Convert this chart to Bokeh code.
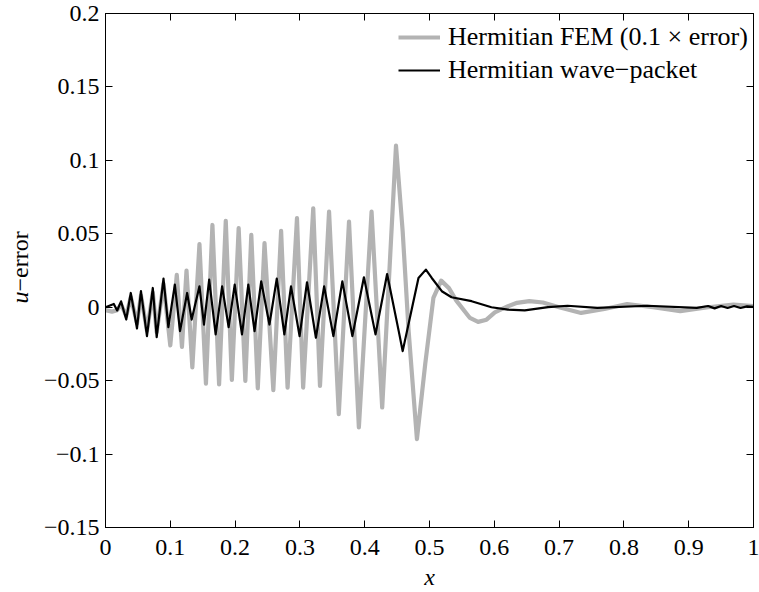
import math
from bokeh.plotting import figure
from bokeh.layouts import row
from bokeh.models import (Range1d, LinearAxis, FixedTicker, Legend, LegendItem, Label,
                          CustomLabelingPolicy)
from bokeh.embed import file_html
from bokeh.resources import INLINE

# ---- data ----
x_fem = [0.0, 0.010, 0.018, 0.024, 0.032, 0.039, 0.0486, 0.0547, 0.064, 0.073, 0.079, 0.0895,
         0.100, 0.110, 0.118, 0.125, 0.134, 0.145, 0.155, 0.165, 0.1753, 0.1856, 0.195, 0.2055,
         0.2158, 0.225, 0.235, 0.2454, 0.259, 0.271, 0.281, 0.2955, 0.305, 0.3206, 0.331, 0.345,
         0.360, 0.3758, 0.391, 0.4106, 0.427, 0.4483, 0.4586, 0.4678, 0.4806, 0.4934, 0.506,
         0.518, 0.530, 0.5414, 0.5624, 0.575, 0.588, 0.6008, 0.6212, 0.635, 0.654, 0.675, 0.700,
         0.734, 0.770, 0.805, 0.845, 0.887, 0.930, 0.969, 1.0]
y_fem = [-0.002, -0.003, -0.002, 0.002, -0.006, 0.007, -0.011, 0.008, -0.016, 0.010, -0.017, 0.016,
         -0.026, 0.022, -0.027, 0.025, -0.041, 0.043, -0.052, 0.056, -0.0525, 0.0588, -0.0495, 0.0538,
         -0.0502, 0.0493, -0.0552, 0.0436, -0.0565, 0.052, -0.0547, 0.0606, -0.0547, 0.0674, -0.0536, 0.0651,
         -0.0728, 0.0583, -0.0819, 0.0651, -0.0683, 0.110, 0.0516, -0.0163, -0.0898, -0.0387, 0.0063,
         0.0181, 0.0130, 0.0045, -0.0073, -0.0100, -0.0085, -0.0035, 0.0007, 0.0030, 0.0042, 0.0032, 0.0000,
         -0.0039, -0.0012, 0.0022, 0.0000, -0.0027, 0.0000, 0.0018, 0.0007]

x_wp = [0.0, 0.006, 0.0128, 0.018, 0.024, 0.032, 0.039, 0.0486, 0.0547, 0.064, 0.073, 0.079, 0.0895,
        0.097, 0.107, 0.115, 0.126, 0.133, 0.145, 0.152, 0.160, 0.170, 0.180, 0.190, 0.1994, 0.2106,
        0.2204, 0.230, 0.2403, 0.253, 0.2643, 0.276, 0.2863, 0.2995, 0.311, 0.3247, 0.3374, 0.3517,
        0.3655, 0.381, 0.3988, 0.4167, 0.4346, 0.4525, 0.4586, 0.473, 0.483, 0.4944, 0.5035, 0.519,
        0.534, 0.565, 0.5956, 0.621, 0.647, 0.683, 0.713, 0.759, 0.836, 0.9125, 0.930, 0.940, 0.950,
        0.960, 0.970, 0.980, 0.990, 1.0]
y_wp = [0.0, 0.001, 0.0022, -0.0022, 0.004, -0.0084, 0.0097, -0.0145, 0.0109, -0.0197, 0.0131, -0.0204, 0.0195,
        -0.0136, 0.0154, -0.0163, 0.0097, -0.0084, 0.0142, -0.0118, 0.0188, -0.0185, 0.0142, -0.0136, 0.0154, -0.0185,
        0.0154, -0.0163, 0.0176, -0.0118, 0.0195, -0.0185, 0.0142, -0.0197, 0.0170, -0.0208, 0.0142, -0.0197,
        0.0176, -0.0197, 0.0204, -0.0185, 0.0226, -0.0163, -0.0299, -0.0005, 0.0199, 0.0256, 0.0199, 0.0109,
        0.0068, 0.0041, 0.0, -0.0016, -0.0022, 0.0, 0.0010, -0.0005, 0.0010, -0.0005, 0.0008, -0.0008, 0.0008,
        -0.0005, 0.0008, -0.0005, 0.0006, 0.0002]

x_ticks = [0, 0.1, 0.2, 0.3, 0.4, 0.5, 0.6, 0.7, 0.8, 0.9, 1]
x_tick_labels = ["0", "0.1", "0.2", "0.3", "0.4", "0.5", "0.6", "0.7", "0.8", "0.9", "1"]
y_ticks = [-0.15, -0.1, -0.05, 0, 0.05, 0.1, 0.15, 0.2]
y_tick_labels = ["\u22120.15", "\u22120.1", "\u22120.05", "0", "0.05", "0.1", "0.15", "0.2"]

series_labels = ["Hermitian FEM (0.1 \u00d7 error)", "Hermitian wave\u2212packet"]
y_label_parts = ["u", "\u2212error"]
x_label = "x"

FONT = "Liberation Serif"
FS = "24px"
H = 589          # total height of both figures
LW = 40          # width of the strip that holds the y-axis label

p = figure(frame_width=648, frame_height=514,
           x_range=Range1d(0, 1), y_range=Range1d(-0.15, 0.2),
           output_backend="svg", toolbar_location=None,
           min_border_left=65, min_border_top=13, min_border_right=6, min_border_bottom=62)
p.background_fill_color = "white"
p.border_fill_color = "white"
p.outline_line_color = "black"
p.outline_line_width = 1
p.xgrid.visible = False
p.ygrid.visible = False

r_fem = p.line(x_fem, y_fem, line_color="#b3b3b3", line_width=4.2, line_join="round")
r_wp = p.line(x_wp, y_wp, line_color="black", line_width=2.2, line_join="round")

def style_axis(ax, ticks, labels, show_labels=True):
    ax.ticker = FixedTicker(ticks=ticks)
    ax.major_label_overrides = {t: l for t, l in zip(ticks, labels)}
    ax.major_tick_in = 7
    ax.major_tick_out = 0
    ax.minor_tick_in = 0
    ax.minor_tick_out = 0
    ax.axis_line_color = "black"
    ax.major_tick_line_color = "black"
    ax.major_label_text_font = FONT
    ax.major_label_text_font_size = FS
    ax.major_label_text_color = "black"
    if not show_labels:
        # mirrored box axis (MATLAB "box on"): ticks only, no labels
        ax.major_label_standoff = 0
        ax.major_label_text_font_size = "1px"
        ax.major_label_policy = CustomLabelingPolicy(
            code="for (const i of indices) { indices.unset(i) }\nreturn indices")

xa = p.xaxis[0]
style_axis(xa, x_ticks, x_tick_labels)
xa.major_label_standoff = 12
xa.axis_label = x_label
xa.axis_label_text_font = FONT
xa.axis_label_text_font_style = "italic"
xa.axis_label_text_font_size = FS
xa.axis_label_text_color = "black"
xa.axis_label_standoff = 6

ya = p.yaxis[0]
style_axis(ya, y_ticks, y_tick_labels)
ya.major_label_standoff = 6

top = LinearAxis()
style_axis(top, x_ticks, x_tick_labels, show_labels=False)
p.add_layout(top, "above")
right = LinearAxis()
style_axis(right, y_ticks, y_tick_labels, show_labels=False)
p.add_layout(right, "right")

legend = Legend(items=[LegendItem(label=series_labels[0], renderers=[r_fem]),
                       LegendItem(label=series_labels[1], renderers=[r_wp])],
                location=(293, 442))
legend.label_text_font = FONT
legend.label_text_font_size = "26px"
legend.label_text_color = "black"
legend.border_line_color = None
legend.background_fill_alpha = 0
legend.glyph_width = 42
legend.glyph_height = 22
legend.label_height = 22
legend.spacing = 3
legend.label_standoff = 8
legend.padding = 0
legend.margin = 0
p.add_layout(legend)

# narrow strip on the left that carries the y-axis label (italic "u" + "−error")
lab = figure(frame_width=LW, frame_height=H, x_range=Range1d(0, LW), y_range=Range1d(0, H),
             output_backend="svg", toolbar_location=None, x_axis_type=None, y_axis_type=None,
             min_border=0)
lab.outline_line_color = None
lab.xgrid.visible = False
lab.ygrid.visible = False
lab.background_fill_color = "white"
lab.border_fill_color = "white"
u_start = H - 290
lab.add_layout(Label(x=19, y=u_start, text=y_label_parts[0], angle=math.pi / 2,
                     text_font=FONT, text_font_size=FS, text_font_style="italic",
                     text_color="black", text_align="left", text_baseline="middle"))
lab.add_layout(Label(x=19, y=u_start + 12, text=y_label_parts[1], angle=math.pi / 2,
                     text_font=FONT, text_font_size=FS, text_color="black",
                     text_align="left", text_baseline="middle"))

layout = row(lab, p, spacing=0)
open("out.html", "w").write(file_html(layout, INLINE))
